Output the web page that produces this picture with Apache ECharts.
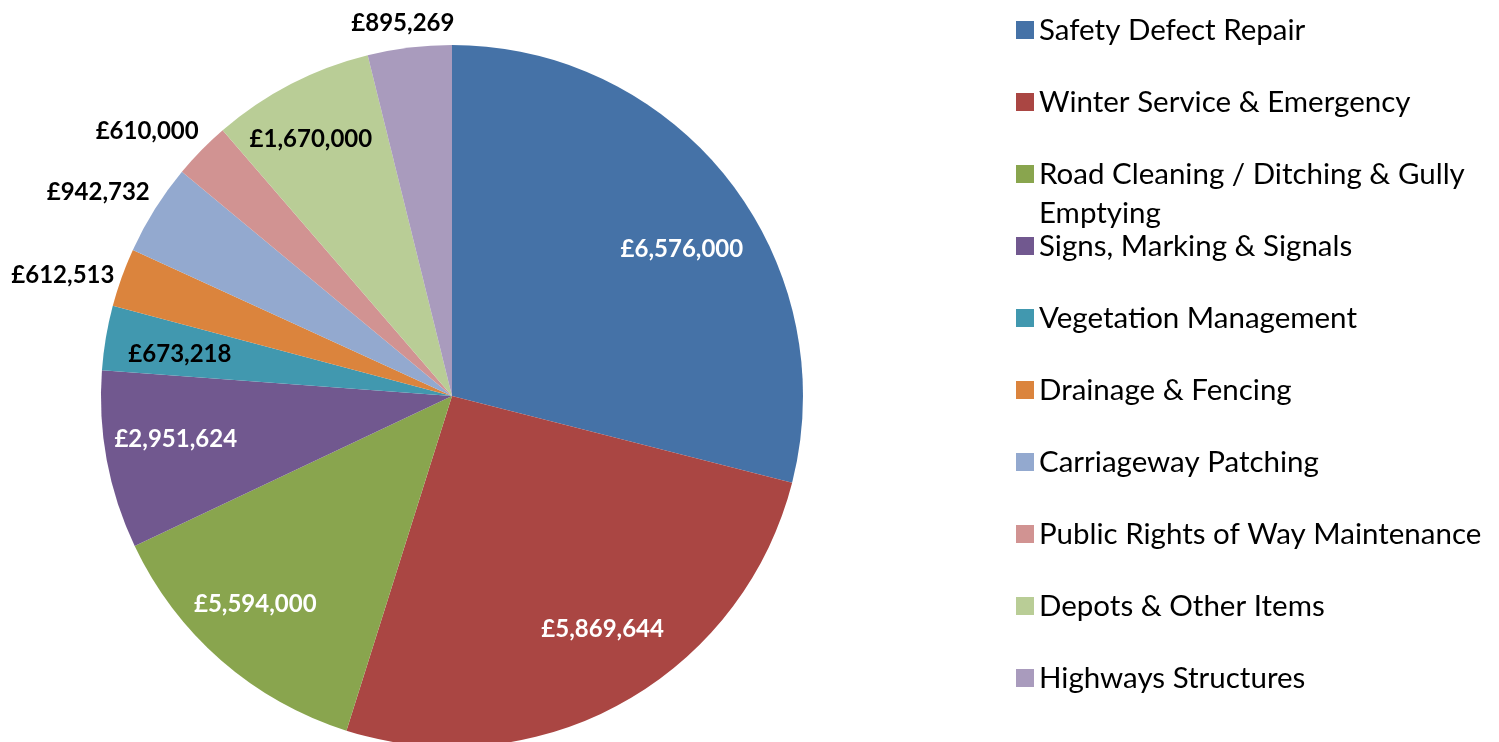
<!DOCTYPE html>
<html>
<head>
<meta charset="utf-8">
<title>Highways maintenance budget</title>
<script src="https://cdn.jsdelivr.net/npm/echarts@6/dist/echarts.min.js"></script>
<style>
  html, body { margin: 0; padding: 0; background: #fff; }
  #chart { width: 1499px; height: 742px; }
</style>
</head>
<body>
<div id="chart"></div>
<script>
const categories = [
  'Safety Defect Repair',
  'Winter Service & Emergency',
  'Road Cleaning / Ditching & Gully Emptying',
  'Signs, Marking & Signals',
  'Vegetation Management',
  'Drainage & Fencing',
  'Carriageway Patching',
  'Public Rights of Way Maintenance',
  'Depots & Other Items',
  'Highways Structures'
];
// slice sizes as drawn in the picture (they do not follow the printed amounts)
const sliceSizes = [104.3, 93.2, 47.2, 29.5, 10.7, 9.7, 15.1, 9.5, 26.9, 13.9];
const amountLabels = [
  '£6,576,000', '£5,869,644', '£5,594,000', '£2,951,624', '£673,218',
  '£612,513', '£942,732', '£610,000', '£1,670,000', '£895,269'
];
const colors = ['#4572A7', '#AA4643', '#89A54E', '#71588F', '#4198AF',
  '#DB843D', '#93A9CF', '#D19392', '#B9CD96', '#A99BBD'];
const labelColors = ['#fff', '#fff', '#fff', '#fff', '#000',
  '#000', '#000', '#000', '#000', '#000'];

// labels that sit outside the pie, with small nudges like the original's best fit
const outsideNudge = { 5: [-7, 16], 6: [-10, 12], 7: [-15, 20], 9: [0, 30] };
const insideNudge = { 0: [8, 26], 1: [14, -12], 2: [-12, -3], 3: [0, -8], 4: [5, 5], 8: [-12, -7] };

const center = [452, 396];
const R = 351;
const font = 'Lato, "Open Sans", sans-serif';

const chart = echarts.init(document.getElementById('chart'));

const labelFont = { fontFamily: font, fontWeight: 'bold', fontSize: 24 };

function labelRing(radius, showOutside) {
  return {
    type: 'pie',
    radius: radius,
    center: center,
    startAngle: 90,
    clockwise: true,
    silent: true,
    animation: false,
    itemStyle: { color: 'transparent' },
    labelLine: { show: false },
    emphasis: { disabled: true },
    label: Object.assign({ position: 'inside' }, labelFont),
    data: categories.map((name, i) => {
      const out = outsideNudge[i];
      return {
        name: name,
        value: sliceSizes[i],
        label: {
          show: !!out === showOutside,
          color: labelColors[i],
          formatter: amountLabels[i],
          offset: out || insideNudge[i] || [0, 0]
        }
      };
    })
  };
}

const legendBase = {
  orient: 'vertical',
  left: 1016,
  padding: 0,
  icon: 'rect',
  itemWidth: 18,
  itemHeight: 18,
  itemGap: 33,
  selectedMode: false,
  textStyle: { fontFamily: font, fontSize: 29.5, color: '#000', lineHeight: 39 }
};

chart.setOption({
  animation: false,
  color: colors,
  legend: [
    Object.assign({}, legendBase, { top: 10.5, data: categories.slice(0, 2) }),
    // wrapped entry: a blank first line keeps the swatch level with the first text line
    Object.assign({}, legendBase, {
      top: 115.5,
      data: [categories[2]],
      formatter: n => '\n' + n.replace(' Emptying', '\nEmptying')
    }),
    Object.assign({}, legendBase, { top: 226.5, data: categories.slice(3) })
  ],
  series: [
    {
      type: 'pie',
      radius: R,
      center: center,
      startAngle: 90,
      clockwise: true,
      label: { show: false },
      labelLine: { show: false },
      emphasis: { scale: false },
      data: categories.map((name, i) => ({ name: name, value: sliceSizes[i] }))
    },
    labelRing([205, R], false),
    labelRing([R, 455], true)
  ]
});
</script>
</body>
</html>
